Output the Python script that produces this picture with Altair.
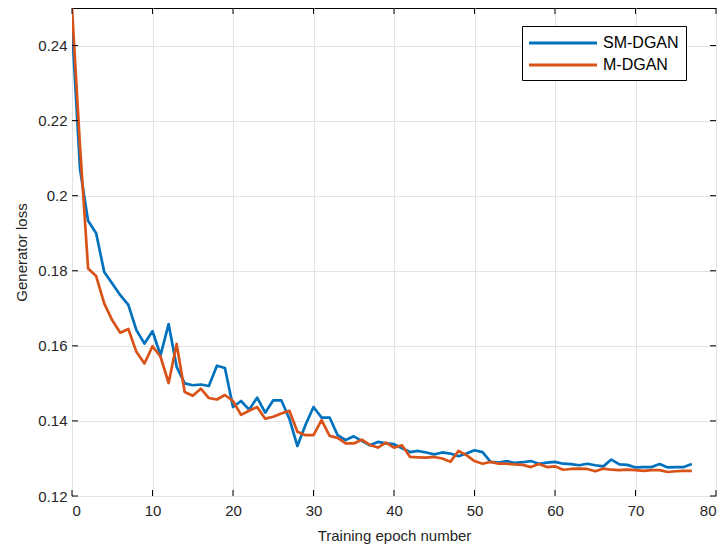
import altair as alt
import pandas as pd

epochs = list(range(78))

sm_dgan = [0.245, 0.207, 0.1933, 0.190, 0.1797, 0.1766, 0.1735, 0.1709, 0.1642, 0.1606,
           0.1639, 0.1575, 0.1658, 0.1544, 0.1500, 0.1495, 0.1497, 0.1493, 0.1547, 0.1541,
           0.1437, 0.1453, 0.1430, 0.1462, 0.1422, 0.1455, 0.1455, 0.1406, 0.1333, 0.1389,
           0.1437, 0.1409, 0.1409, 0.1362, 0.1349, 0.1359, 0.1347, 0.1335, 0.1344, 0.1340,
           0.1338, 0.1327, 0.1317, 0.1320, 0.1316, 0.1311, 0.1316, 0.1313, 0.1306, 0.1313,
           0.1322, 0.1317, 0.1291, 0.1289, 0.1293, 0.1288, 0.1290, 0.1293, 0.1286, 0.1289,
           0.1291, 0.1286, 0.1285, 0.1282, 0.1286, 0.1282, 0.1279, 0.1297, 0.1284, 0.1283,
           0.1276, 0.1277, 0.1277, 0.1285, 0.1276, 0.1277, 0.1277, 0.1285]

m_dgan = [0.250, 0.213, 0.1806, 0.1786, 0.1713, 0.1668, 0.1635, 0.1645, 0.1584, 0.1553,
          0.1599, 0.1571, 0.1501, 0.1605, 0.1477, 0.1467, 0.1486, 0.1461, 0.1457, 0.1469,
          0.1453, 0.1416, 0.1427, 0.1437, 0.1406, 0.1411, 0.1420, 0.1427, 0.1371, 0.1362,
          0.1362, 0.1402, 0.1360, 0.1355, 0.1340, 0.1340, 0.1350, 0.1336, 0.1329, 0.1342,
          0.1329, 0.1335, 0.1304, 0.1303, 0.1302, 0.1304, 0.1300, 0.1291, 0.1320, 0.1309,
          0.1293, 0.1286, 0.1291, 0.1286, 0.1286, 0.1284, 0.1283, 0.1277, 0.1285, 0.1277,
          0.1279, 0.1270, 0.1272, 0.1273, 0.1272, 0.1266, 0.1273, 0.1270, 0.1269, 0.1270,
          0.1269, 0.1267, 0.1269, 0.1269, 0.1264, 0.1266, 0.1267, 0.1267]

series_names = ["SM-DGAN", "M-DGAN"]
series_colors = ["#0072BD", "#D95319"]

x_ticks = [0, 10, 20, 30, 40, 50, 60, 70, 80]
y_ticks = [0.12, 0.14, 0.16, 0.18, 0.20, 0.22, 0.24]

W, H = 644, 488
FONT = "Liberation Sans"

df = pd.DataFrame({
    "epoch": epochs * 2,
    "loss": sm_dgan + m_dgan,
    "model": [series_names[0]] * len(epochs) + [series_names[1]] * len(epochs),
    "order": [0] * len(epochs) + [1] * len(epochs),
})

xscale = alt.Scale(domain=[0, 80], nice=False, zero=False)
yscale = alt.Scale(domain=[0.12, 0.25], nice=False, zero=False)
xaxis = alt.Axis(values=x_ticks, title="Training epoch number", format="d",
                 ticks=False, domain=False, grid=True, labelPadding=7, titlePadding=10)
yaxis = alt.Axis(values=y_ticks, title="Generator loss", format=".2~f",
                 ticks=False, domain=False, grid=True, labelPadding=5, titlePadding=8)

lines = alt.Chart(df).mark_line(strokeWidth=2.7, clip=True, strokeJoin="round").encode(
    x=alt.X("epoch:Q", scale=xscale, axis=xaxis),
    y=alt.Y("loss:Q", scale=yscale, axis=yaxis),
    color=alt.Color("model:N",
                    scale=alt.Scale(domain=series_names, range=series_colors),
                    legend=alt.Legend(orient="none", legendX=450, legendY=18, title=None,
                                      symbolType="M-4,0H4", symbolSize=289,
                                      symbolStrokeWidth=3, symbolOffset=24,
                                      labelOffset=30, labelFontSize=16, labelFont=FONT,
                                      labelColor="#000000",
                                      rowPadding=4, padding=7, strokeColor="black",
                                      fillColor="white", cornerRadius=0)),
    order=alt.Order("order:Q"),
)

xt = pd.DataFrame({"epoch": x_ticks})
yt = pd.DataFrame({"loss": y_ticks})
TL = 6

bottom_ticks = alt.Chart(xt).mark_rule(color="black", strokeWidth=1).encode(
    x=alt.X("epoch:Q", scale=xscale, axis=xaxis), y=alt.value(H), y2=alt.value(H - TL))
top_ticks = alt.Chart(xt).mark_rule(color="black", strokeWidth=1).encode(
    x=alt.X("epoch:Q", scale=xscale, axis=xaxis), y=alt.value(0), y2=alt.value(TL))
left_ticks = alt.Chart(yt).mark_rule(color="black", strokeWidth=1).encode(
    y=alt.Y("loss:Q", scale=yscale, axis=yaxis), x=alt.value(0), x2=alt.value(TL))
right_ticks = alt.Chart(yt).mark_rule(color="black", strokeWidth=1).encode(
    y=alt.Y("loss:Q", scale=yscale, axis=yaxis), x=alt.value(W), x2=alt.value(W - TL))

chart = alt.layer(lines, bottom_ticks, top_ticks, left_ticks, right_ticks).properties(
    width=W, height=H,
    background="white",
    autosize=alt.AutoSizeParams(type="none"),
    padding={"left": 64, "top": 0, "right": 2, "bottom": 52},
).configure_view(
    stroke="black", strokeWidth=1
).configure_axis(
    labelFont=FONT, titleFont=FONT, labelFontSize=15, titleFontSize=15,
    labelColor="#262626", titleColor="#262626", titleFontWeight="normal",
    gridColor="#e3e3e3", gridWidth=1,
)

chart.save("out.html", embed_options={"renderer": "svg", "actions": False})
